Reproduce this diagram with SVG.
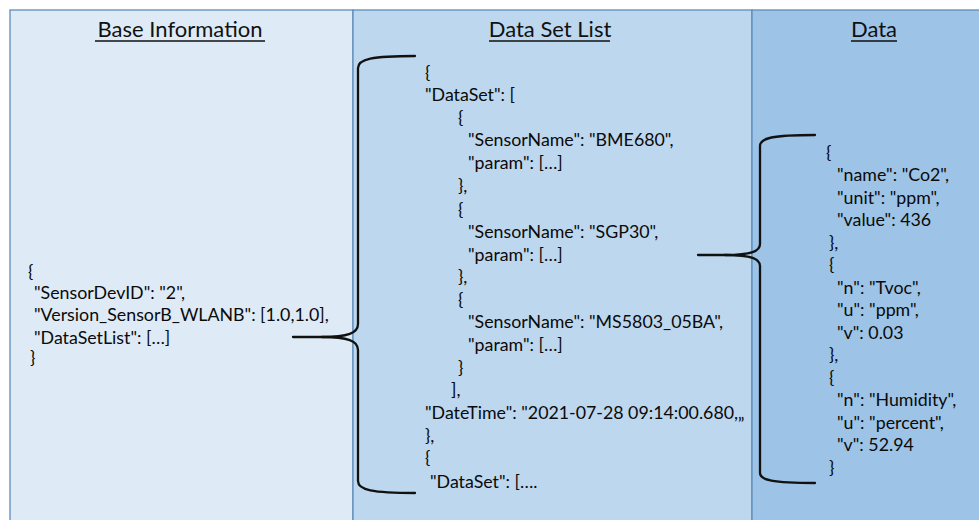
<svg xmlns="http://www.w3.org/2000/svg" width="979" height="520" viewBox="0 0 979 520">
  <style>
    .panel { stroke: #5f8cba; stroke-width: 1.3; }
    .title { font-family: Lato, "Liberation Sans", sans-serif; font-size: 22px; fill: #111; text-anchor: middle; }
    .ul { stroke: #111; stroke-width: 1.4; }
    .code { font-family: Lato, "Liberation Sans", sans-serif; font-size: 17.8px; fill: #0a0a0a; }
    .brace { fill: none; stroke: #111; stroke-width: 2.3; stroke-linecap: round; }
  </style>
  <rect width="979" height="520" fill="#ffffff"/>

  <g id="base-information">
    <rect class="panel" x="10" y="10" width="343" height="520" fill="#deebf7"/>
    <text class="title" x="180" y="37">Base Information</text>
    <line class="ul" x1="95" y1="41" x2="265" y2="41"/>
    <text class="code" x="28" y="278">{</text>
    <text class="code" x="34" y="299">"SensorDevID": "2",</text>
    <text class="code" x="34" y="321">"Version_SensorB_WLANB": [1.0,1.0],</text>
    <text class="code" x="34" y="344">"DataSetList": […]</text>
    <text class="code" x="30" y="364">}</text>
  </g>

  <g id="data-set-list">
    <rect class="panel" x="353" y="10" width="399" height="520" fill="#bdd7ee"/>
    <text class="title" x="550" y="37">Data Set List</text>
    <line class="ul" x1="489" y1="41" x2="610" y2="41"/>
    <text class="code" x="425" y="79">{</text>
    <text class="code" x="425" y="101">"DataSet": [</text>
    <text class="code" x="458" y="124">{</text>
    <text class="code" x="468" y="146">"SensorName": "BME680",</text>
    <text class="code" x="468" y="169">"param": […]</text>
    <text class="code" x="458" y="192">},</text>
    <text class="code" x="458" y="216">{</text>
    <text class="code" x="468" y="238">"SensorName": "SGP30",</text>
    <text class="code" x="468" y="261">"param": […]</text>
    <text class="code" x="458" y="283">},</text>
    <text class="code" x="458" y="306">{</text>
    <text class="code" x="468" y="328">"SensorName": "MS5803_05BA",</text>
    <text class="code" x="468" y="351">"param": […]</text>
    <text class="code" x="458" y="374">}</text>
    <text class="code" x="451" y="396">],</text>
    <text class="code" x="425" y="419">"DateTime": "2021-07-28 09:14:00.680,„</text>
    <text class="code" x="425" y="442">},</text>
    <text class="code" x="425" y="464">{</text>
    <text class="code" x="430" y="488">"DataSet": [….</text>
  </g>

  <g id="data">
    <rect class="panel" x="752" y="10" width="240" height="520" fill="#9dc3e6"/>
    <text class="title" x="874" y="37">Data</text>
    <line class="ul" x1="851" y1="41" x2="897" y2="41"/>
    <text class="code" x="826" y="159">{</text>
    <text class="code" x="837" y="181">"name": "Co2",</text>
    <text class="code" x="837" y="204">"unit": "ppm",</text>
    <text class="code" x="837" y="226">"value": 436</text>
    <text class="code" x="829" y="249">},</text>
    <text class="code" x="829" y="271">{</text>
    <text class="code" x="837" y="294">"n": "Tvoc",</text>
    <text class="code" x="837" y="316">"u": "ppm",</text>
    <text class="code" x="837" y="339">"v": 0.03</text>
    <text class="code" x="829" y="361">},</text>
    <text class="code" x="829" y="384">{</text>
    <text class="code" x="837" y="406">"n": "Humidity",</text>
    <text class="code" x="837" y="429">"u": "percent",</text>
    <text class="code" x="837" y="451">"v": 52.94</text>
    <text class="code" x="829" y="474">}</text>
  </g>

  <g id="connectors">
    <!-- DataSetList -> data set list brace -->
    <path class="brace" d="M293,337 L322,337 C348,337 358,333 358,324 L358,68 C358,59 372,56 415,56"/>
    <path class="brace" d="M322,337 C348,337 358,341 358,350 L358,481 C358,490 372,493 415,493"/>
    <!-- param -> data brace -->
    <path class="brace" d="M698,255 L725,255 C752,255 760,251 760,244 L760,146 C760,138 772,135 815,135"/>
    <path class="brace" d="M725,255 C752,255 760,259 760,266 L760,473 C760,480 772,483 815,483"/>
  </g>
</svg>
